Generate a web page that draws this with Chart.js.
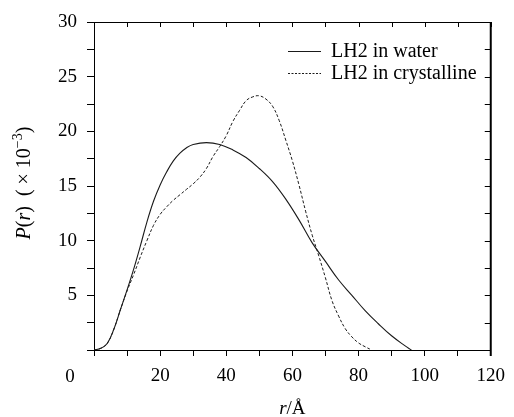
<!DOCTYPE html>
<html>
<head>
<meta charset="utf-8">
<script src="https://cdn.jsdelivr.net/npm/chart.js@4.4.1/dist/chart.umd.min.js"></script>
<style>
  html, body { margin: 0; padding: 0; background: #fff; }
  #wrap { width: 514px; height: 417px; }
</style>
</head>
<body>
<div id="wrap"><canvas id="prChart" width="514" height="417"></canvas></div>
<script>
// P(r) distance distribution, values x 10^-3
const waterRadius = [0, 2, 4, 6, 8, 10, 12, 14, 16, 18, 20, 22, 24, 26, 28, 30, 34, 38, 42, 46, 50, 54, 58, 62, 66, 70, 74, 78, 82, 86, 90, 94, 96];
const waterValues = [0, 0.15, 0.6, 1.9, 3.7, 5.5, 7.4, 9.5, 11.7, 13.6, 15.1, 16.3, 17.3, 18.0, 18.5, 18.8, 18.97, 18.8, 18.3, 17.6, 16.6, 15.4, 13.8, 11.9, 9.8, 8.1, 6.4, 5.0, 3.6, 2.4, 1.3, 0.4, 0];

const crystalRadius = [0, 2, 4, 6, 8, 10, 12, 14, 16, 18, 20, 22, 24, 26, 28, 30, 32, 34, 36, 38, 40, 42, 44, 46, 48, 50, 52, 54, 56, 58, 60, 62, 64, 66, 68, 70, 72, 74, 76, 78, 80, 82, 84];
const crystalValues = [0, 0.15, 0.6, 1.9, 3.7, 5.4, 6.9, 8.5, 10.0, 11.4, 12.4, 13.1, 13.7, 14.2, 14.7, 15.2, 15.8, 16.6, 17.7, 18.6, 19.6, 20.9, 21.9, 22.8, 23.15, 23.25, 22.95, 22.3, 21.0, 19.2, 17.3, 15.1, 12.7, 10.5, 8.6, 6.6, 4.5, 3.1, 1.95, 1.2, 0.65, 0.3, 0];

const seriesLabels = ['LH2 in water', 'LH2 in crystalline'];
const xTickLabels = [20, 40, 60, 80, 100, 120];
const yTickLabels = [5, 10, 15, 20, 25, 30];

const SERIF = '"Liberation Serif", "DejaVu Serif", serif';
const INK = '#1a1a1a';

function toPoints(xs, ys) { return xs.map((r, i) => ({ x: r, y: ys[i] })); }

// draws a run of text pieces (italic / superscript) one after another
function drawRich(ctx, parts, size) {
    const fontOf = p => `${p.italic ? 'italic ' : ''}${p.sup ? Math.round(size * 0.68) : size}px ${SERIF}`;
    let total = 0;
    parts.forEach(p => { ctx.font = fontOf(p); p.w = ctx.measureText(p.t).width; total += p.w; });
    let cx = -total / 2;
    parts.forEach(p => {
        ctx.font = fontOf(p);
        ctx.fillText(p.t, cx, p.sup ? -size * 0.38 : 0);
        cx += p.w;
    });
}

const framePlugin = {
    id: 'frame',
    afterDraw(chart) {
        const { ctx, chartArea: a, scales: { x, y } } = chart;
        ctx.save();
        ctx.strokeStyle = '#000';
        ctx.lineWidth = 1;
        ctx.beginPath();
        ctx.moveTo(a.left, a.top + 0.5); ctx.lineTo(a.right, a.top + 0.5);
        x.ticks.forEach(t => { const px = Math.round(x.getPixelForValue(t.value)) + 0.5; ctx.moveTo(px, a.top); ctx.lineTo(px, a.top + 5); });
        y.ticks.forEach(t => { const py = Math.round(y.getPixelForValue(t.value)) + 0.5; ctx.moveTo(a.right, py); ctx.lineTo(a.right - 6, py); });
        ctx.stroke();
        ctx.lineWidth = 2;
        ctx.beginPath(); ctx.moveTo(a.right, a.top); ctx.lineTo(a.right, a.bottom + 6); ctx.stroke();

        ctx.fillStyle = '#000';
        ctx.textBaseline = 'middle';
        ctx.textAlign = 'center';
        ctx.font = `19px ${SERIF}`;
        ctx.fillText('0', 70, x.top + 6 + 9 + 12);

        // axis titles
        ctx.textAlign = 'left';
        ctx.textBaseline = 'alphabetic';
        ctx.save();
        ctx.translate((a.left + a.right) / 2, 414);
        drawRich(ctx, [{ t: 'r', italic: true }, { t: '/Å' }], 19);
        ctx.restore();
        ctx.save();
        ctx.translate(30, (a.top + a.bottom) / 2 - 3);
        ctx.rotate(-Math.PI / 2);
        drawRich(ctx, [{ t: 'P', italic: true }, { t: '(' }, { t: 'r', italic: true }, { t: ')' }, { t: '  ( × 10' }, { t: '−3', sup: true }, { t: ')' }], 20);
        ctx.restore();

        // legend
        ctx.textBaseline = 'middle';
        ctx.font = `20px ${SERIF}`;
        chart.data.datasets.forEach((ds, i) => {
            const ly = 51 + i * 22;
            ctx.strokeStyle = ds.borderColor;
            ctx.lineWidth = 1;
            ctx.setLineDash(i === 0 ? [] : [2, 1.5]);
            ctx.beginPath(); ctx.moveTo(288, ly + 0.5); ctx.lineTo(321, ly + 0.5); ctx.stroke();
            ctx.setLineDash([]);
            ctx.fillText(ds.label, 331, ly + 1);
        });
        ctx.restore();
    }
};

new Chart(document.getElementById('prChart'), {
    type: 'line',
    data: {
        datasets: [
            { label: seriesLabels[0], data: toPoints(waterRadius, waterValues), borderColor: INK, borderWidth: 1.1, pointRadius: 0, tension: 0.4, fill: false },
            { label: seriesLabels[1], data: toPoints(crystalRadius, crystalValues), borderColor: INK, borderWidth: 1, borderDash: [3, 2], pointRadius: 0, tension: 0.4, fill: false }
        ]
    },
    options: {
        responsive: false,
        animation: false,
        events: [],
        layout: { padding: { left: 0, right: 17, top: 22, bottom: 0 } },
        plugins: { legend: { display: false }, tooltip: { enabled: false } },
        scales: {
            x: {
                type: 'linear', min: 0, max: 120,
                afterFit: s => { s.height = 67; },
                ticks: { stepSize: 10, autoSkip: false, maxRotation: 0, padding: 9, color: '#000', font: { family: SERIF, size: 19 },
                    callback: v => xTickLabels.includes(v) ? String(v) : '' },
                grid: { drawOnChartArea: false, drawTicks: true, tickLength: 6, color: '#000', lineWidth: 1 },
                border: { display: true, color: '#000', width: 1 }
            },
            y: {
                type: 'linear', min: 0, max: 30,
                afterFit: s => { s.width = 94; },
                ticks: { stepSize: 2.5, autoSkip: false, padding: 10, color: '#000', font: { family: SERIF, size: 19 },
                    callback: v => yTickLabels.includes(v) ? String(v) : '' },
                grid: { drawOnChartArea: false, drawTicks: true, tickLength: 7, color: '#000', lineWidth: 1 },
                border: { display: true, color: '#000', width: 1 }
            }
        }
    },
    plugins: [framePlugin]
});
</script>
</body>
</html>
